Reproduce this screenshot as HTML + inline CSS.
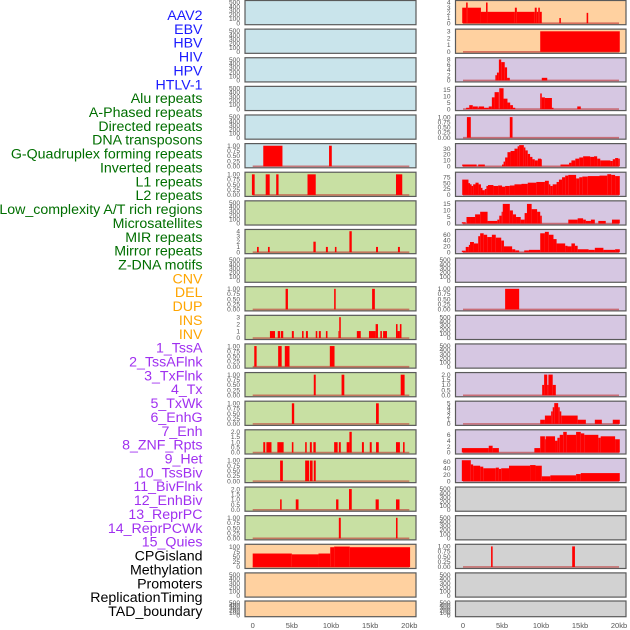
<!DOCTYPE html>
<html><head><meta charset="utf-8">
<style>
html,body{margin:0;padding:0;background:#fff;width:630px;height:630px;overflow:hidden}
svg{display:block}
text{font-family:"Liberation Sans",sans-serif}
</style></head>
<body>
<svg id="chart" width="630" height="630"></svg>
<script>
const trackLabels = ["AAV2","EBV","HBV","HIV","HPV","HTLV-1","Alu repeats","A-Phased repeats","Directed repeats","DNA transposons","G-Quadruplex forming repeats","Inverted repeats","L1 repeats","L2 repeats","Low_complexity A/T rich regions","Microsatellites","MIR repeats","Mirror repeats","Z-DNA motifs","CNV","DEL","DUP","INS","INV","1_TssA","2_TssAFlnk","3_TxFlnk","4_Tx","5_TxWk","6_EnhG","7_Enh","8_ZNF_Rpts","9_Het","10_TssBiv","11_BivFlnk","12_EnhBiv","13_ReprPC","14_ReprPCWk","15_Quies","CPGisland","Methylation","Promoters","ReplicationTiming","TAD_boundary"];
const labelColors = ["#1a1aff","#006e00","#ffa500","#a030f0","#000"];
const labelGroupSizes = [6,13,5,15,5];
const xTickValues = [0,5,10,15,20];
const xTickLabels = ["0","5kb","10kb","15kb","20kb"];
const leftBg = ["b","b","b","b","b","b","g","g","g","g","g","g","g","g","g","g","g","g","g","o","o","o"];
const rightBg = ["o","o","p","p","p","p","p","p","p","p","p","p","p","p","p","p","p","gr","gr","gr","gr","gr"];
const bgColors = {b:"#c9e4eb",g:"#c8e0a3",o:"#ffd1a0",p:"#d6c7e2",gr:"#d2d2d2"};
const EMPTY = ["0","100","200","300","400","500"];
const ONE = ["0.00","0.25","0.50","0.75","1.00"];
const TWO = ["0.0","0.5","1.0","1.5","2.0"];
const leftTicks = [EMPTY,EMPTY,EMPTY,EMPTY,EMPTY,ONE,ONE,EMPTY,["0","1","2","3","4"],EMPTY,ONE,["0","1","2","3"],ONE,ONE,ONE,TWO,ONE,TWO,ONE,["0","25","50","75","100"],EMPTY,EMPTY];
const rightTicks = [["0","1","2","3","4"],["0","1","2","3"],["0","2","4","6","8"],["0","5","10","15"],ONE,["0","10","20","30"],["0","25","50","75"],["0","5","10","15"],["0","20","40","60"],EMPTY,ONE,EMPTY,EMPTY,TWO,["0","1","2","3","4","5"],["0","2","4","6"],["0","20","40","60"],EMPTY,EMPTY,ONE,EMPTY,EMPTY];
const leftYMax = [510,510,510,510,510,1.03,1.03,510,4.05,510,1.03,3.05,1.03,1.03,1.03,2.05,1.03,2.05,1.03,104,510,510];
const rightYMax = [4.1,3.1,8.1,16.3,1.03,36,90,16.2,73,510,1.03,510,510,2.05,5.1,7.2,66,510,510,1.03,510,510];

// series: [startKb, endKb, value]
const L5 = [[1.35,3.8,1],[9.75,10.1,1]];
const L6 = [[-0.1,0.25,1],[1.66,2.17,1],[3.0,3.3,1],[7.0,8.05,1],[18.3,19.1,1]];
const L8 = [[0.55,0.77,1],[1.95,2.17,1],[7.75,8.05,2],[9.35,9.6,1],[10.5,10.7,1],[12.35,12.65,4],[15.75,16.0,1],[18.55,18.8,1]];
const L10 = [[4.2,4.5,1],[10.4,10.6,1],[15.25,15.6,1]];
const L11 = [[2.2,2.85,1],[3.2,3.5,1],[3.6,3.9,1],[5.0,5.25,1],[6.3,6.5,1],[6.8,7.05,1],[8.05,8.25,1],[8.45,8.7,1],[9.35,9.55,1],[10.95,11.05,1],[11.05,11.25,3],[13.3,13.8,1],[14.85,15.7,1],[15.7,16.0,2],[16.3,16.5,1],[16.65,17.15,1],[18.3,18.5,2],[18.5,18.8,1],[18.8,19.0,2]];
const L12 = [[0.2,0.5,1],[3.25,3.7,1],[4.1,4.7,1],[9.85,10.45,1]];
const L13 = [[7.8,8.05,1],[11.35,11.7,1],[18.9,19.4,1]];
const L14 = [[5.0,5.3,1],[15.75,16.1,1]];
const L15 = [[1.35,1.6,1],[1.75,2.4,1],[3.15,3.95,1],[5.0,5.2,1],[6.7,6.9,1],[7.3,7.55,1],[7.75,8.05,1],[10.4,10.85,1],[11.0,11.25,1],[12.0,12.35,1],[12.35,12.65,2],[13.95,14.2,1],[14.95,15.2,1],[15.75,16.1,1],[18.3,18.8,1],[19.2,19.4,1]];
const L16 = [[3.5,3.85,1],[6.7,7.2,1],[7.3,7.65,1],[7.8,8.05,1]];
const L17 = [[3.5,3.7,1],[5.5,5.85,1],[10.65,10.95,1],[12.3,12.65,2],[15.7,16.1,1],[18.3,18.75,1]];
const L18 = [[11.0,11.25,1],[18.3,18.5,1]];
const L19 = [[0,5.0,66],[5.0,8.4,62],[8.4,9.9,66],[9.9,10.4,97],[10.4,12.4,100],[12.4,20.1,97]];

const R0 = [[-0.1,0.4,3],[0.4,0.6,4],[0.6,2.3,3],[2.3,2.95,2.2],[2.95,3.15,4],[3.15,6.65,2.2],[6.65,6.9,3],[6.9,9.2,2.2],[9.2,9.45,3],[9.45,9.65,2.2],[9.65,9.85,3],[9.85,10.1,2.2],[12.35,12.55,1],[15.85,16.05,2]];
const R1 = [[9.9,20.1,3]];
const R2 = [[4.15,4.35,2],[4.35,4.6,3],[4.6,4.9,8],[4.9,5.35,7],[5.35,5.65,5],[5.65,6.0,1],[10.1,10.8,1]];
const R3 = [[0.4,0.8,1],[0.8,1.25,3],[1.25,1.9,2],[1.9,2.0,1],[2.0,2.7,2],[2.7,3.3,1],[3.3,3.7,2],[3.7,4.05,9],[4.05,4.6,13],[4.65,5.2,16],[5.2,5.7,8],[5.7,6.05,5],[6.05,6.4,3],[6.4,6.7,1],[9.9,10.1,12],[10.1,10.5,9],[10.5,11.4,8.5],[11.4,11.6,1],[14.65,15.1,2]];
const R4 = [[0.5,1.0,1],[6.0,6.35,1]];
const R5 = [[-0.1,1.75,3],[1.95,2.8,3],[5.0,5.2,3],[5.2,5.4,8],[5.4,5.7,15],[5.7,6.1,24],[6.1,6.6,26],[6.6,7.0,30],[7.0,7.2,34],[7.2,7.8,36],[7.8,8.0,32],[8.0,8.3,27],[8.3,8.6,21],[8.6,8.9,16],[8.9,9.2,12],[9.2,9.6,10],[9.6,10.0,13],[10.0,10.1,12],[12.5,13.6,3],[13.6,13.9,6],[13.9,14.4,10],[14.4,14.9,13],[14.9,15.4,15],[15.4,16.3,17],[16.3,16.8,16],[16.8,17.2,17],[17.2,17.6,13],[17.6,18.9,10],[18.9,19.2,9],[19.2,19.5,12],[19.5,19.9,14],[19.9,20.1,13]];
const R6 = [[-0.1,0.7,65],[0.7,0.9,50],[0.9,1.1,45],[1.1,1.3,38],[1.3,1.6,45],[1.6,2.0,52],[2.0,2.3,45],[2.3,2.5,30],[2.5,2.8,20],[2.8,3.0,25],[3.0,3.2,38],[3.2,3.9,42],[3.9,4.5,38],[4.5,5.0,40],[5.0,5.4,35],[5.4,6.0,38],[6.0,6.6,40],[6.6,7.5,45],[7.5,8.3,47],[8.3,9.4,52],[9.4,10.5,55],[10.5,11.0,60],[11.0,11.2,45],[11.2,11.5,38],[11.5,12.0,45],[12.0,12.3,55],[12.3,12.7,65],[12.7,13.1,75],[13.1,13.5,82],[13.5,14.5,85],[14.5,14.9,70],[14.9,15.3,75],[15.3,16.0,78],[16.0,17.5,80],[17.5,18.5,82],[18.5,19.0,88],[19.0,19.5,85],[19.5,20.1,80]];
const R7 = [[-0.15,0.35,1],[0.45,0.9,5],[0.9,1.55,5],[1.55,2.2,7],[2.2,3.15,9],[3.15,4.4,2],[4.4,4.65,3],[4.65,4.95,6],[4.95,5.1,9],[5.1,6.0,15],[6.0,6.4,10],[6.4,6.8,7],[6.8,7.4,5],[7.4,7.9,3],[7.9,8.2,8],[8.2,8.8,15],[8.8,9.5,11],[9.5,9.9,9],[9.9,10.1,6],[13.5,14.7,3],[14.7,15.4,4],[15.4,15.75,3],[15.75,16.4,2],[16.4,16.9,3],[17.35,18.3,2],[19.1,20.1,3]];
const R8 = [[-0.15,0.35,5],[0.35,0.75,18],[0.75,0.9,25],[0.9,1.4,35],[1.4,1.95,30],[1.95,2.2,55],[2.2,2.65,65],[2.65,3.1,60],[3.1,3.7,52],[3.7,4.2,60],[4.2,4.9,50],[4.9,5.25,40],[5.25,6.3,20],[6.3,6.7,10],[6.7,7.2,6],[7.85,8.45,6],[8.45,9.9,8],[9.9,10.5,65],[10.5,11.0,70],[11.0,11.6,60],[11.6,12.0,45],[12.0,13.1,30],[13.1,13.4,22],[13.4,13.9,20],[13.9,14.35,30],[14.35,14.7,22],[14.7,16.1,10],[16.1,16.9,8],[16.9,18.0,15],[18.0,19.5,8],[19.5,20.1,10]];
const R10 = [[5.4,7.2,1]];
const R13 = [[10.15,10.4,1],[10.4,10.8,2],[10.8,10.95,1],[10.95,11.5,2],[11.5,11.9,1]];
const R14 = [[9.9,10.5,1],[10.5,11.3,2],[11.3,11.5,3],[11.5,11.7,4],[11.7,12.2,5],[12.2,12.4,4],[12.4,12.6,3],[12.6,14.7,2],[14.7,15.75,1],[16.9,17.8,1],[19.2,20.1,1]];
const R15 = [[-0.15,3.3,1.5],[3.3,3.8,2.3],[3.8,4.6,1.5],[9.15,9.9,1.5],[9.9,10.5,5.5],[10.5,10.6,4.5],[10.6,11.8,5.5],[11.8,12.1,4],[12.1,12.4,5],[12.4,12.85,6],[12.85,13.3,7],[13.3,14.5,6],[14.5,15.1,7],[15.1,15.55,6.5],[15.55,17.35,6],[17.35,17.65,5],[17.65,19.5,5.5],[19.5,20.1,4.5]];
const R16 = [[-0.15,1.0,65],[1.0,1.3,52],[1.3,2.2,48],[2.2,2.6,45],[2.6,4.2,40],[4.2,4.6,42],[4.6,4.9,38],[4.9,5.9,40],[5.9,8.6,48],[8.6,9.3,50],[9.3,10.1,48],[10.1,11.2,15],[11.2,14.5,18],[14.5,15.1,22],[15.1,20.1,25]];
const R19 = [[3.6,3.8,1],[14.0,14.35,1]];

const leftSeries = {5:L5,6:L6,8:L8,10:L10,11:L11,12:L12,13:L13,14:L14,15:L15,16:L16,17:L17,18:L18,19:L19};
const rightSeries = {0:R0,1:R1,2:R2,3:R3,4:R4,5:R5,6:R6,7:R7,8:R8,10:R10,13:R13,14:R14,15:R15,16:R16,19:R19};

const NS = "http://www.w3.org/2000/svg";
const svg = document.getElementById("chart");
function mk(tag, attrs, parent){
  const e = document.createElementNS(NS, tag);
  for (const k in attrs) e.setAttribute(k, attrs[k]);
  (parent||svg).appendChild(e);
  return e;
}
let idx = 0;
labelGroupSizes.forEach((n, g) => {
  for (let j = 0; j < n; j++) {
    const t = mk("text", {x: 202.5, y: 20 + idx*13.86, "text-anchor":"end", "font-size":"14.2", fill: labelColors[g]});
    t.textContent = trackLabels[idx];
    
    
    idx++;
  }
});
const cols = [
  {x0:245, x1:416, zero:252.7, pxPerKb:7.83, bg:leftBg, ticks:leftTicks, ymax:leftYMax, series:leftSeries, name:"left"},
  {x0:455.5, x1:626, zero:463, pxPerKb:7.8, bg:rightBg, ticks:rightTicks, ymax:rightYMax, series:rightSeries, name:"right"}
];
cols.forEach(c => {
  const xs = kb => c.zero + kb*c.pxPerKb;
  for (let i = 0; i < 22; i++) {
    const top = i === 21 ? 601 : i*28.62 + 0.5;
    const h = i === 21 ? 15.7 : 24.2;
    const bot = top + h;
    const g = mk("g", {});
    
    
    const bg = mk("rect", {x:c.x0, y:top, width:c.x1-c.x0, height:h, fill:bgColors[c.bg[i]], stroke:"#5a5a5a", "stroke-width":"1.2"}, g);
    
    
    const ymax = c.ymax[i];
    const ys = v => (bot - 1.5) - v/ymax*(h - 3);
    c.ticks[i].forEach(lbl => {
      const v = parseFloat(lbl);
      const t = mk("text", {x:c.x0-5, y:ys(v)+2.2, "text-anchor":"end", "font-size":"6.6", fill:"#555"}, g);
      t.textContent = lbl;
      
      
    });
    const s = c.series[i];
    if (s) {
      const bl = mk("line", {x1:xs(0), x2:xs(20), y1:ys(0), y2:ys(0), stroke:"#c03030", "stroke-opacity":"0.6", "stroke-width":"1.6"}, g);
      
      
      s.forEach(seg => {
        const r = mk("rect", {x:xs(seg[0]), y:ys(seg[2]), width:Math.max(0.8, xs(seg[1])-xs(seg[0])), height:ys(0)-ys(seg[2]), fill:"#ff0000"}, g);
        
        
      });
    }
  }
  xTickValues.forEach((v, k) => {
    const t = mk("text", {x:xs(v), y:628, "text-anchor":"middle", "font-size":"7.5", fill:"#555"});
    t.textContent = xTickLabels[k];
    
    
  });
});
</script>
</body></html>
